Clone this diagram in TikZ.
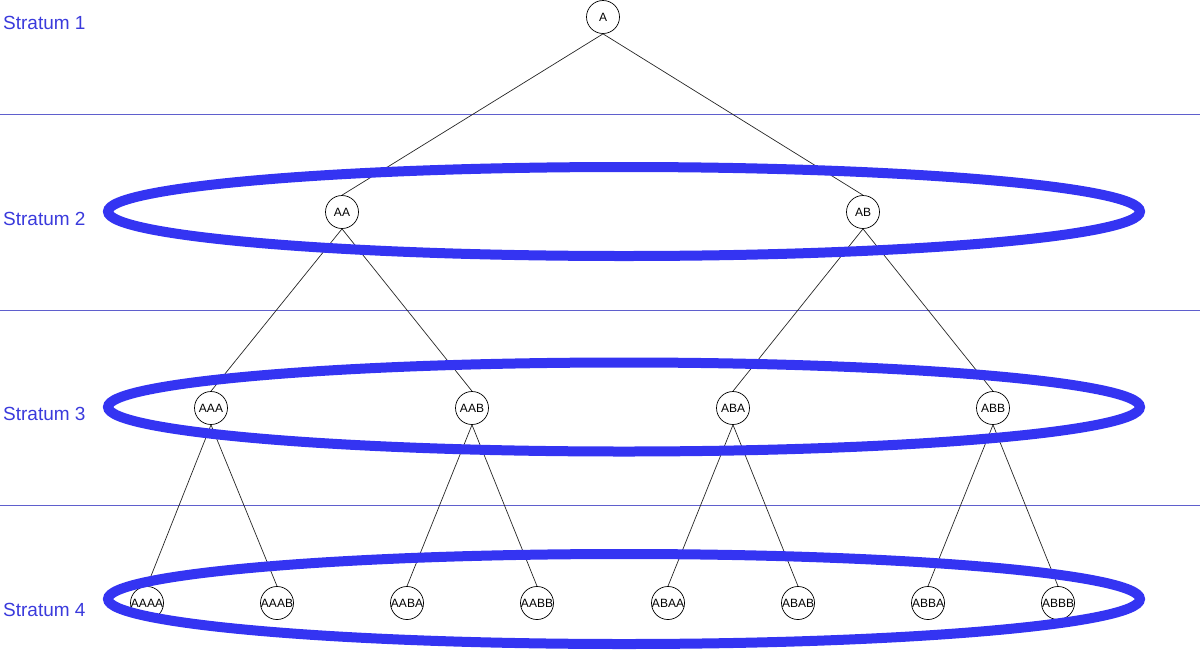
\documentclass[tikz,border=0pt]{standalone}
\usepackage{fontspec}
\setmainfont{Liberation Sans}
\definecolor{ringblue}{RGB}{52,52,242}
\definecolor{labelblue}{RGB}{58,58,220}
\definecolor{ruleblue}{RGB}{95,95,205}
\begin{document}
\begin{tikzpicture}[x=1pt,y=-1pt,
  tnode/.style={circle,draw,line width=0.7pt,minimum size=33pt,inner sep=0pt,font=\fontsize{12}{12}\selectfont},
  edge/.style={line width=0.7pt,draw=black!85},
  ring/.style={draw=ringblue,line width=10pt},
  rule/.style={draw=ruleblue,line width=0.9pt},
  stratlabel/.style={anchor=west,text=labelblue,inner sep=0pt,font=\fontsize{19}{19}\selectfont}]
\useasboundingbox (0,0) rectangle (1200,649);
% rules
\coordinate (r1l) at (0,114); \coordinate (r1r) at (1200,114);
\coordinate (r2l) at (0,310); \coordinate (r2r) at (1200,310);
\coordinate (r3l) at (0,505); \coordinate (r3r) at (1200,505);
\draw[rule] (r1l) -- (r1r);
\draw[rule] (r2l) -- (r2r);
\draw[rule] (r3l) -- (r3r);
% labels
\node[stratlabel] (s1) at (3,23) {Stratum 1};
\node[stratlabel] (s2) at (3,219) {Stratum 2};
\node[stratlabel] (s3) at (3,414) {Stratum 3};
\node[stratlabel] (s4) at (3,610) {Stratum 4};
% nodes
\node[tnode] (A) at (603,17) {A};
\node[tnode] (AA) at (342,212) {AA};
\node[tnode] (AB) at (863,212) {AB};
\node[tnode] (AAA) at (211,408) {AAA};
\node[tnode] (AAB) at (472,408) {AAB};
\node[tnode] (ABA) at (733,408) {ABA};
\node[tnode] (ABB) at (993,408) {ABB};
\node[tnode] (AAAA) at (147,603) {AAAA};
\node[tnode] (AAAB) at (277,603) {AAAB};
\node[tnode] (AABA) at (407,603) {AABA};
\node[tnode] (AABB) at (537,603) {AABB};
\node[tnode] (ABAA) at (668,603) {ABAA};
\node[tnode] (ABAB) at (798,603) {ABAB};
\node[tnode] (ABBA) at (928,603) {ABBA};
\node[tnode] (ABBB) at (1058,603) {ABBB};
% edges
\foreach \p/\c in {A/AA,A/AB,AA/AAA,AA/AAB,AB/ABA,AB/ABB,AAA/AAAA,AAA/AAAB,AAB/AABA,AAB/AABB,ABA/ABAA,ABA/ABAB,ABB/ABBA,ABB/ABBB}
  \draw[edge] (\p.south) -- (\c.north);
% rings
\coordinate (e2) at (624,211.5);
\coordinate (e3) at (624,407);
\coordinate (e4) at (624,599);
\draw[ring] (e2) ellipse [x radius=516, y radius=44.5];
\draw[ring] (e3) ellipse [x radius=516, y radius=44.5];
\draw[ring] (e4) ellipse [x radius=516, y radius=45];
\end{tikzpicture}
\end{document}
